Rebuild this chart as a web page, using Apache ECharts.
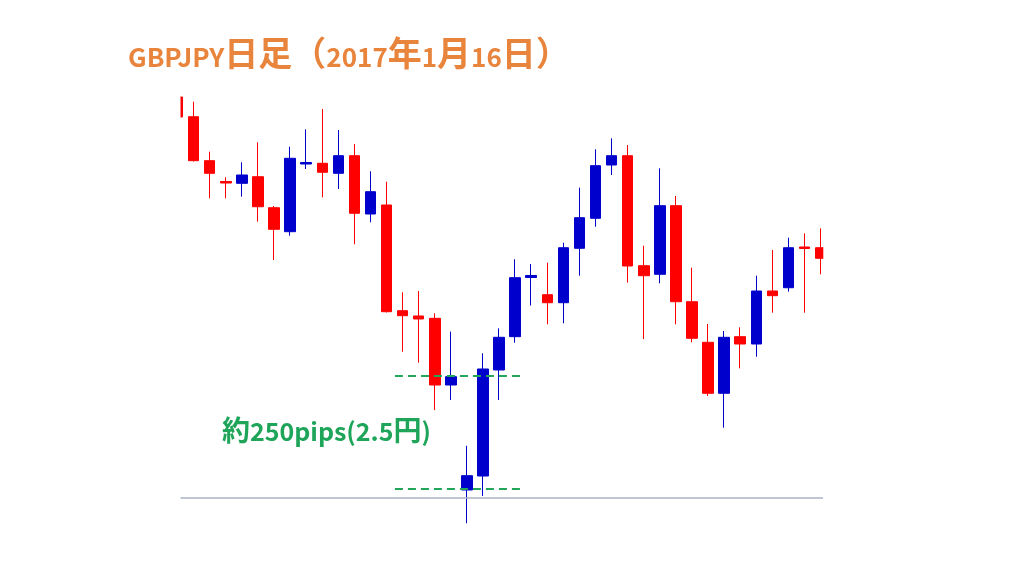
<!DOCTYPE html>
<html>
<head>
<meta charset="utf-8">
<script src="https://cdn.jsdelivr.net/npm/echarts@6/dist/echarts.min.js"></script>
<style>
html,body{margin:0;padding:0;background:#fff;}
#chart{width:1024px;height:576px;}
</style>
</head>
<body>
<div id="chart"></div>
<script>
// GBPJPY daily candles (approx. prices)
const opens  = [145.622,145.184,144.207,143.744,143.704,143.851,143.162,142.629,144.133,144.149,
                143.927,144.318,143.022,143.222,140.873,140.756,140.704,139.222,136.889,137.200,
                139.556,140.296,141.611,141.229,141.051,142.260,142.927,144.111,144.318,141.873,
                141.682,143.207,141.073,140.171,139.038,140.296,140.133,141.311,141.384,142.289,
                142.273];
const closes = [145.178,144.207,143.927,143.711,143.889,143.184,142.682,144.260,144.167,143.949,
                144.318,143.038,143.518,140.851,140.762,140.689,139.222,139.407,137.207,139.578,
                140.282,141.607,141.656,141.051,142.273,142.940,144.096,144.318,141.867,141.651,
                143.207,141.073,140.260,139.038,140.282,140.133,141.311,141.207,142.273,142.256,
                142.038];
const lows   = [145.150,144.189,143.371,143.371,143.407,142.851,142.000,142.540,144.022,143.393,
                143.578,142.349,142.838,140.833,139.962,139.718,138.667,138.889,136.149,136.756,
                138.889,140.162,140.989,140.571,140.593,141.651,142.740,143.889,141.496,140.244,
                141.482,140.571,140.171,138.978,138.273,139.593,139.851,140.829,141.296,140.829,
                141.682];
const highs  = [145.650,145.518,144.407,143.838,144.171,144.616,143.200,144.518,144.904,145.356,
                144.889,144.578,143.971,143.740,141.282,141.311,140.816,140.407,137.873,139.927,
                140.482,142.016,141.911,141.940,142.384,143.607,144.460,144.704,144.556,142.318,
                144.038,143.422,141.829,140.578,140.422,140.504,141.651,142.222,142.496,142.593,
                142.704];
const baseLevel = 136.711;
const rangeTop = 139.422;
const rangeBottom = 136.911;
const rangeFrom = 13.52, rangeTo = 21.3;
const titleParts = [['GBPJPY','a'],['日足（','c'],['2017','a'],['年','c'],['1','a'],['月','c'],['16','a'],['日）','c']];
const noteParts = [['約','c'],['250pips(2.5','a'],['円','c'],[')','a']];

const candles = opens.map((o, i) => [i, o, closes[i], lows[i], highs[i]]);
const richText = parts => parts.map(p => '{' + p[1] + '|' + p[0] + '}').join('');

const FONT = '"Noto Sans CJK JP", "Noto Sans", sans-serif';
const chart = echarts.init(document.getElementById('chart'), null, {renderer: 'canvas'});
chart.setOption({
  animation: false,
  backgroundColor: '#ffffff',
  grid: {left: 180, top: 80, width: 643, height: 450},
  xAxis: {type: 'value', min: 0.15, max: 40.15, show: false},
  yAxis: {type: 'value', min: 136, max: 146, show: false},
  graphic: [
    // plot-area edge masks (the reference crops the outermost candles)
    {type: 'rect', z: 100, shape: {x: 140, y: 85, width: 40.5, height: 450}, style: {fill: '#ffffff'}},
    {type: 'rect', z: 100, shape: {x: 823.3, y: 85, width: 40, height: 450}, style: {fill: '#ffffff'}},
    {type: 'text', z: 101, left: 128, top: 36,
     style: {text: richText(titleParts), fill: '#e8843c',
       rich: {
         a: {fontFamily: FONT, fontWeight: 'bold', fontSize: 26, fill: '#e8843c', verticalAlign: 'bottom', lineHeight: 36},
         c: {fontFamily: FONT, fontWeight: 'bold', fontSize: 34, fill: '#e8843c', verticalAlign: 'bottom', lineHeight: 36}
       }}},
    {type: 'text', z: 101, left: 222, top: 416,
     style: {text: richText(noteParts), fill: '#1fa55a',
       rich: {
         a: {fontFamily: FONT, fontWeight: 'bold', fontSize: 25, fill: '#1fa55a', verticalAlign: 'bottom', lineHeight: 30},
         c: {fontFamily: FONT, fontWeight: 'bold', fontSize: 28, fill: '#1fa55a', verticalAlign: 'bottom', lineHeight: 30}
       }}}
  ],
  series: [{
    type: 'candlestick',
    encode: {x: 0, y: [1, 2, 3, 4]},
    data: candles,
    barWidth: 11,
    clip: true,
    itemStyle: {
      color: '#0000cc', color0: '#ff0000',
      borderColor: '#0000cc', borderColor0: '#ff0000',
      borderWidth: 1
    },
    markLine: {
      silent: true,
      symbol: 'none',
      label: {show: false},
      data: [
        [{coord: [0.15, baseLevel], lineStyle: {color: '#a9b5c2', width: 1.5, type: 'solid'}},
         {coord: [40.15, baseLevel]}],
        [{coord: [rangeFrom, rangeTop], lineStyle: {color: '#22a65a', width: 2, type: [8, 5]}},
         {coord: [rangeTo, rangeTop]}],
        [{coord: [rangeFrom, rangeBottom], lineStyle: {color: '#22a65a', width: 2, type: [8, 5]}},
         {coord: [rangeTo, rangeBottom]}]
      ]
    }
  }]
});
</script>
</body>
</html>
